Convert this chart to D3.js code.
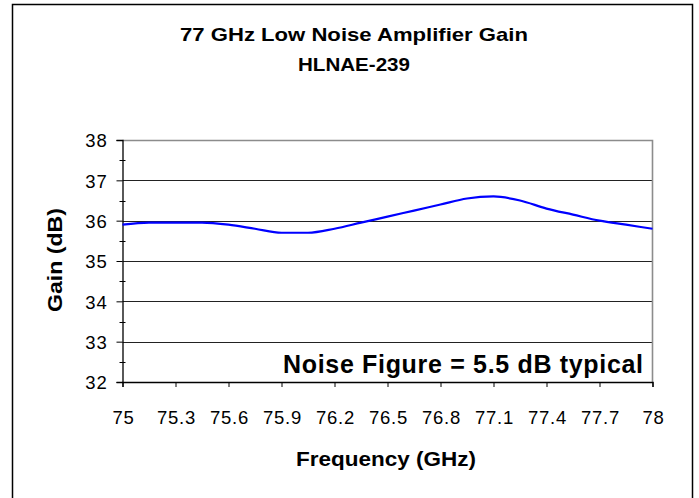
<!DOCTYPE html>
<html>
<head>
<meta charset="utf-8">
<script src="https://cdn.jsdelivr.net/npm/d3@7"></script>
<style>
  html, body { margin: 0; padding: 0; background: #fff; }
  svg { display: block; }
  text { font-family: "Liberation Sans", Arial, sans-serif; fill: #000; }
</style>
</head>
<body>
<svg id="chart" width="699" height="498"></svg>
<script>
// ---- data ----
const frequencies = [75, 75.15, 75.3, 75.45, 75.6, 75.75, 75.9, 76.05, 76.2, 76.35, 76.5,
                     76.65, 76.8, 76.95, 77.1, 77.25, 77.4, 77.55, 77.7, 77.85, 78];
const gainValues  = [35.9, 35.95, 35.95, 35.95, 35.9, 35.8, 35.7, 35.7, 35.8, 35.95, 36.1,
                     36.25, 36.4, 36.55, 36.6, 36.5, 36.3, 36.15, 36.0, 35.9, 35.8];
const xTickValues = [75, 75.3, 75.6, 75.9, 76.2, 76.5, 76.8, 77.1, 77.4, 77.7, 78];
const yTickValues = [32, 33, 34, 35, 36, 37, 38];
const yMinorTicks = [32.5, 33.5, 34.5, 35.5, 36.5, 37.5];
const titleLines = ["77 GHz Low Noise Amplifier Gain", "HLNAE-239"];
const xAxisTitle = "Frequency (GHz)";
const yAxisTitle = "Gain (dB)";
const noteText = "Noise Figure = 5.5 dB typical";

// ---- layout ----
const svg = d3.select("#chart");
const plot = { left: 122.5, right: 652.5, top: 140, bottom: 382 };

const x = d3.scaleLinear().domain([75, 78]).range([plot.left, plot.right]);
const y = d3.scaleLinear().domain([32, 38]).range([plot.bottom, plot.top]);

// outer border
svg.append("rect")
  .attr("x", 12.5).attr("y", 4.5).attr("width", 680).attr("height", 500)
  .attr("fill", "none").attr("stroke", "#000").attr("stroke-width", 1.5);

// gridlines
svg.append("g")
  .selectAll("line")
  .data(yTickValues.filter(v => v > 32 && v < 38))
  .join("line")
  .attr("x1", plot.left).attr("x2", plot.right)
  .attr("y1", d => Math.round(y(d)) + 0.5).attr("y2", d => Math.round(y(d)) + 0.5)
  .attr("stroke", "#222").attr("stroke-width", 1);

// plot area top & right border (gray)
svg.append("path")
  .attr("d", `M${plot.left},${plot.top + 0.5}H${plot.right}V${plot.bottom}`)
  .attr("fill", "none").attr("stroke", "#8c8c8c").attr("stroke-width", 1.6);

// y axis
const yAxis = d3.axisLeft(y).tickValues(yTickValues).tickSize(6).tickFormat(d3.format("d"));
const gy = svg.append("g").attr("transform", `translate(${plot.left},0)`).call(yAxis);
gy.select(".domain").attr("stroke", "#000").attr("stroke-width", 1.3);
gy.selectAll(".tick line").attr("stroke", "#000");
gy.selectAll(".tick text")
  .attr("x", -15)
  .attr("dy", "0.36em")
  .style("font-family", "'Liberation Sans', Arial, sans-serif")
  .style("font-size", "18.5px")
  .style("letter-spacing", "0.8px")
  .attr("fill", "#000");
// minor ticks
svg.append("g")
  .selectAll("line")
  .data(yMinorTicks)
  .join("line")
  .attr("x1", plot.left - 3).attr("x2", plot.left + 3)
  .attr("y1", d => Math.round(y(d)) + 0.5).attr("y2", d => Math.round(y(d)) + 0.5)
  .attr("stroke", "#000");

// x axis
const xAxis = d3.axisBottom(x).tickValues(xTickValues).tickSize(5).tickFormat(d => String(d));
const gx = svg.append("g").attr("transform", `translate(0,${plot.bottom})`).call(xAxis);
gx.select(".domain").attr("stroke", "#000").attr("stroke-width", 1.3);
gx.selectAll(".tick line").attr("stroke", "#000");
gx.selectAll(".tick text")
  .attr("y", 42).attr("dy", 0).attr("x", 0.5)
  .style("font-family", "'Liberation Sans', Arial, sans-serif")
  .style("font-size", "18.5px")
  .style("letter-spacing", "0.8px")
  .attr("fill", "#000");

// line
const line = d3.line()
  .x((d, i) => x(frequencies[i]))
  .y(d => y(d))
  .curve(d3.curveMonotoneX);
svg.append("path")
  .datum(gainValues)
  .attr("d", line)
  .attr("fill", "none")
  .attr("stroke", "#0000ff")
  .attr("stroke-width", 2.2)
  .attr("stroke-linejoin", "round");

// titles
svg.append("text")
  .attr("x", 180).attr("y", 41)
  .attr("textLength", 348).attr("lengthAdjust", "spacingAndGlyphs")
  .style("font-size", "19px").style("font-weight", "bold")
  .text(titleLines[0]);
svg.append("text")
  .attr("x", 298).attr("y", 71)
  .attr("textLength", 112).attr("lengthAdjust", "spacingAndGlyphs")
  .style("font-size", "19px").style("font-weight", "bold")
  .text(titleLines[1]);

// axis titles
svg.append("text")
  .attr("x", 296).attr("y", 466)
  .attr("textLength", 180).attr("lengthAdjust", "spacingAndGlyphs")
  .style("font-size", "19.5px").style("font-weight", "bold")
  .text(xAxisTitle);
svg.append("text")
  .attr("transform", `translate(62,${312}) rotate(-90)`)
  .attr("textLength", 104).attr("lengthAdjust", "spacingAndGlyphs")
  .style("font-size", "19.5px").style("font-weight", "bold")
  .text(yAxisTitle);

// note
svg.append("text")
  .attr("x", 283).attr("y", 373)
  .attr("textLength", 360).attr("lengthAdjust", "spacing")
  .style("font-size", "25px").style("font-weight", "bold")
  .text(noteText);
</script>
</body>
</html>
